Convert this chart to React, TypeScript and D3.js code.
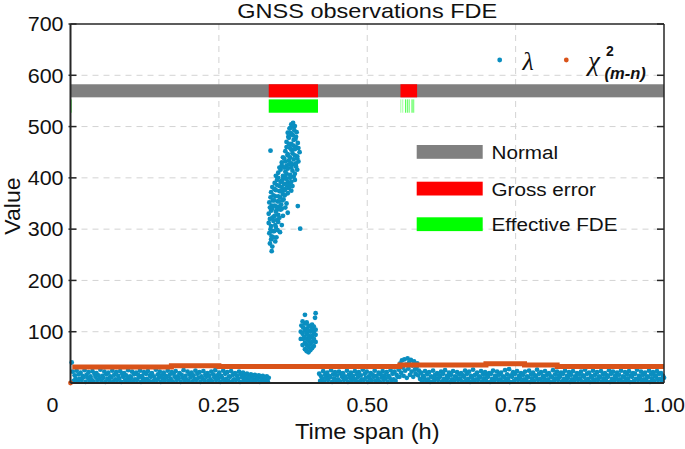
import React from "react";
import * as d3 from "d3";

const W = 685;
const H = 449;
const PL = 70.5, PR = 664, PT = 24, PB = 383;

const xTicks = [0, 0.25, 0.5, 0.75, 1];
const xTickLabels = ["0", "0.25", "0.50", "0.75", "1.00"];
const yTicks = [100, 200, 300, 400, 500, 600, 700];
const yTickLabels = ["100", "200", "300", "400", "500", "600", "700"];
const xGrid = [0.25, 0.5, 0.75];
const yGrid = [100, 200, 300, 400, 500, 600];

// status bands
const normalBand = [557, 582.5];
const fdeBand = [527, 553];
const grossStart = [0.334, 0.556];
const grossEnd = [0.417, 0.584];
const fdeStart = [0.334];
const fdeEnd = [0.417];
const fdeStrips = [0.001, 0.5565, 0.5598, 0.5648, 0.5682, 0.5709, 0.5755, 0.5783];
const fdeStripOpacity = [0.8, 0.35, 0.35, 0.8, 0.7, 0.5, 0.8, 0.6];

// lambda, low band segments (epoch samples spread over the segment time span)
const segATime = [0.002, 0.334];
const lambdaSegA = [
  40, 22, 4, 15, 9, 24, 3, 17, 8, 20, 6, 14, 11, 25, 2, 16, 10, 21, 5, 13,
  7, 23, 3, 18, 12, 19, 6, 15, 9, 26, 4, 14, 10, 22, 2, 17, 8, 20, 5, 13,
  11, 24, 3, 16, 7, 21, 6, 14, 9, 23, 2, 18, 12, 19, 5, 15, 8, 25, 4, 13,
  10, 22, 3, 17, 7, 20, 6, 16, 11, 24, 2, 14, 9, 21, 5, 18, 8, 23, 4, 15,
  12, 19, 3, 13, 7, 26, 6, 17, 10, 22, 2, 15, 9, 20, 5, 14, 11, 24, 4, 16,
  8, 21, 3, 18, 12, 23, 6, 13, 9, 19, 2, 16, 10, 25, 5, 14, 7, 22, 4, 17,
  11, 20, 3, 15, 8, 24, 6, 18, 10, 21, 2, 13, 9, 23, 5, 16, 12, 19, 4, 14,
  7, 22, 3, 17, 11, 25, 6, 15, 9, 20, 2, 14, 10, 24, 5, 18, 8, 21, 4, 13,
  12, 23, 3, 16, 7, 19, 6, 14, 9, 22, 2, 17, 11, 20, 5, 15, 8, 18, 4, 13,
  10, 17, 3, 14, 7, 16, 5, 12, 9, 15, 2, 13, 8, 14, 4, 11, 6, 13, 3, 10,
];
const segBTime = [0.419, 0.551];
const lambdaSegB = [
  18, 4, 13, 8, 23, 3, 16, 10, 20, 6, 14, 11, 25, 2, 17, 9, 21, 5, 15, 7,
  22, 3, 18, 12, 19, 6, 13, 9, 24, 2, 16, 10, 20, 5, 14, 8, 23, 4, 17, 11,
  21, 3, 15, 7, 26, 6, 18, 10, 22, 2, 13, 9, 19, 5, 16, 12, 24, 4, 14, 8,
  20, 3, 17, 11, 23, 6, 15, 9, 21, 2, 14, 10, 25, 5, 18, 7, 22, 4, 16, 12,
];
const bumpTime = [0.553, 0.587];
const lambdaBump = [26, 12, 38, 20, 44, 30, 14, 46, 24, 36, 10, 48, 28, 40, 16, 45, 22, 34, 12, 42, 26, 18, 30, 38, 15, 24];
const segCTime = [0.589, 1.0];
const lambdaSegC = [
  8, 20, 3, 14, 10, 23, 5, 17, 7, 21, 2, 13, 11, 24, 4, 16, 9, 19, 6, 15,
  12, 22, 3, 18, 8, 25, 5, 14, 10, 20, 2, 16, 7, 23, 4, 13, 11, 21, 6, 17,
  9, 19, 3, 15, 12, 24, 5, 18, 8, 22, 2, 14, 10, 26, 4, 16, 7, 20, 6, 13,
  11, 23, 3, 17, 9, 21, 5, 15, 12, 19, 2, 18, 8, 24, 4, 14, 10, 22, 6, 16,
  7, 20, 3, 13, 11, 25, 5, 17, 9, 27, 2, 15, 12, 21, 4, 18, 8, 23, 6, 14,
  10, 19, 3, 16, 7, 22, 5, 13, 11, 24, 2, 17, 9, 20, 4, 15, 12, 26, 6, 18,
  8, 21, 3, 14, 10, 23, 5, 16, 7, 19, 2, 13, 11, 25, 4, 17, 9, 22, 6, 15,
  12, 20, 3, 18, 8, 24, 5, 14, 10, 21, 2, 16, 7, 23, 4, 13, 11, 19, 6, 17,
  9, 22, 3, 15, 12, 26, 5, 18, 8, 20, 2, 14, 10, 24, 4, 16, 7, 21, 6, 13,
  11, 23, 3, 17, 9, 19, 5, 15, 12, 25, 2, 18, 8, 22, 4, 14, 10, 20, 6, 16,
  7, 24, 3, 13, 11, 21, 5, 17, 9, 23, 2, 15, 12, 19, 4, 18, 8, 26, 6, 14,
  10, 22, 3, 16, 7, 20, 5, 13, 11, 24, 2, 17, 9, 21, 4, 15, 12, 23, 6, 18,
  8, 19, 3, 14, 10,
];

// lambda, gross-error clusters [time, value]
const lambdaHigh: [number, number][] = [
  [0.372, 504], [0.375, 507], [0.378, 501], [0.370, 497], [0.374, 500],
  [0.366, 488], [0.369, 496], [0.373, 485], [0.377, 493], [0.381, 489],
  [0.367, 480], [0.371, 487], [0.375, 483], [0.379, 476],
  [0.364, 470], [0.368, 478], [0.372, 466], [0.376, 474], [0.380, 480], [0.383, 468],
  [0.364, 460], [0.368, 466], [0.372, 455], [0.376, 463], [0.380, 460], [0.384, 458],
  [0.362, 452], [0.366, 444], [0.370, 458], [0.374, 448], [0.378, 456], [0.382, 442], [0.386, 450], [0.337, 453],
  [0.358, 440], [0.362, 432], [0.366, 446], [0.370, 440], [0.374, 426], [0.378, 444], [0.382, 438],
  [0.356, 430], [0.360, 438], [0.364, 424], [0.368, 434], [0.372, 428], [0.376, 436], [0.380, 422], [0.384, 432],
  [0.352, 420], [0.356, 424], [0.360, 420], [0.364, 408], [0.368, 426], [0.372, 420], [0.376, 402], [0.380, 428],
  [0.350, 410], [0.354, 416], [0.358, 404], [0.362, 412], [0.366, 418], [0.370, 406], [0.374, 414], [0.378, 408], [0.382, 416],
  [0.346, 404], [0.350, 400], [0.354, 392], [0.358, 398], [0.362, 402], [0.366, 392], [0.370, 400], [0.374, 384],
  [0.344, 390], [0.348, 396], [0.352, 384], [0.356, 394], [0.360, 388], [0.364, 398], [0.368, 386], [0.372, 392], [0.378, 396],
  [0.340, 382], [0.344, 378], [0.348, 386], [0.352, 374], [0.356, 382], [0.360, 376], [0.364, 386], [0.368, 380],
  [0.338, 372], [0.342, 366], [0.346, 376], [0.350, 364], [0.354, 374], [0.358, 368], [0.362, 378], [0.366, 370], [0.372, 375],
  [0.337, 362], [0.341, 356], [0.345, 364], [0.349, 354], [0.353, 362], [0.357, 356], [0.361, 366],
  [0.335, 352], [0.339, 346], [0.343, 356], [0.347, 344], [0.351, 354], [0.355, 348], [0.359, 358], [0.364, 350], [0.383, 345],
  [0.336, 342], [0.340, 340], [0.344, 346], [0.348, 338], [0.352, 344], [0.356, 340], [0.362, 342],
  [0.334, 330], [0.338, 336], [0.342, 324], [0.346, 334], [0.350, 328], [0.354, 338], [0.358, 326], [0.366, 332],
  [0.336, 320], [0.340, 322], [0.344, 326], [0.348, 318], [0.352, 322],
  [0.334, 312], [0.338, 306], [0.342, 316], [0.346, 304], [0.350, 314], [0.356, 308], [0.387, 301],
  [0.337, 300], [0.341, 296], [0.345, 308], [0.349, 298],
  [0.335, 292], [0.339, 286], [0.343, 296], [0.347, 284], [0.353, 294],
  [0.338, 280], [0.342, 284],
  [0.336, 272], [0.340, 266], [0.345, 276], [0.339, 257],
];
const lambdaMid: [number, number][] = [
  [0.388, 86], [0.388, 100], [0.389, 112],
  [0.391, 74], [0.392, 86], [0.391, 96], [0.392, 108], [0.391, 120],
  [0.395, 66], [0.395, 78], [0.394, 90], [0.395, 102], [0.395, 116], [0.395, 133],
  [0.398, 62], [0.398, 74], [0.398, 86], [0.398, 96], [0.398, 106], [0.398, 118],
  [0.401, 60], [0.401, 70], [0.401, 82], [0.401, 92], [0.401, 102], [0.401, 112],
  [0.404, 64], [0.404, 76], [0.404, 88], [0.404, 100], [0.404, 110],
  [0.407, 68], [0.407, 80], [0.407, 92], [0.407, 104], [0.407, 114],
  [0.410, 72], [0.410, 86], [0.410, 98], [0.410, 110],
  [0.413, 80], [0.413, 94], [0.413, 104], [0.412, 127], [0.413, 136],
];

// chi-square threshold (step changes)
const chiTimes = [0.003, 0.17, 0.25, 0.555, 0.70, 0.765, 0.82, 1.0];
const chiValues = [31, 33.5, 32, 35, 37.5, 35, 32, 32];
const chiFirst = [0.0, 0];

const BLUE = "#0a8ec0";
const ORANGE = "#d95319";
const GRID = "#d3d3d3";
const AX = "#262626";
const R = 2.4;

function spread(range: number[], vals: number[]): [number, number][] {
  const n = vals.length;
  return vals.map((v, i) => [range[0] + ((range[1] - range[0]) * i) / (n - 1), v]);
}

export default function App() {
  const x = d3.scaleLinear().domain([0, 1]).range([PL, PR]);
  const y = d3.scaleLinear().domain([0, 700]).range([PB, PT]);

  const lowPts = [
    ...spread(segATime, lambdaSegA),
    ...spread(segBTime, lambdaSegB),
    ...spread(bumpTime, lambdaBump),
    ...spread(segCTime, lambdaSegC),
  ];
  const allBlue = [...lowPts, ...lambdaHigh, ...lambdaMid];

  const chiLine = d3
    .line<number>()
    .x((_, i) => x(chiTimes[i]))
    .y((d) => y(d))
    .curve(d3.curveStepAfter)(chiValues) as string;

  const font = "'Liberation Sans', Arial, Helvetica, sans-serif";
  const serif = "'Liberation Serif', 'DejaVu Serif', serif";
  const sx = 1.1;

  const legendItems = [
    { label: "Normal", color: "#808080", y: 145 },
    { label: "Gross error", color: "#ff0000", y: 181.7 },
    { label: "Effective FDE", color: "#00ff00", y: 217.3 },
  ];

  return (
    <svg width={W} height={H} style={{ position: "fixed", left: 0, top: 0, background: "#fff" }} fontFamily={font}>
      <rect x={0} y={0} width={W} height={H} fill="#fff" />
      {/* grid */}
      {yGrid.map((v) => (
        <line key={"gy" + v} x1={PL} x2={PR} y1={y(v)} y2={y(v)} stroke={GRID} strokeWidth={1} strokeDasharray="6,5" />
      ))}
      {xGrid.map((t) => (
        <line key={"gx" + t} x1={x(t)} x2={x(t)} y1={PT} y2={PB} stroke={GRID} strokeWidth={1} strokeDasharray="6,5" />
      ))}
      {/* status bands */}
      <rect x={x(0)} width={x(1) - x(0)} y={y(normalBand[1])} height={y(normalBand[0]) - y(normalBand[1])} fill="#808080" />
      {grossStart.map((s, i) => (
        <rect key={"g" + i} x={x(s)} width={x(grossEnd[i]) - x(s)} y={y(normalBand[1])} height={y(normalBand[0]) - y(normalBand[1])} fill="#ff0000" />
      ))}
      {fdeStart.map((s, i) => (
        <rect key={"f" + i} x={x(s)} width={x(fdeEnd[i]) - x(s)} y={y(fdeBand[1])} height={y(fdeBand[0]) - y(fdeBand[1])} fill="#00ff00" />
      ))}
      {fdeStrips.map((t, i) => (
        <line key={"fs" + i} x1={x(t)} x2={x(t)} y1={y(fdeBand[1])} y2={y(fdeBand[0])} stroke="#00ff00" strokeWidth={1} opacity={fdeStripOpacity[i]} />
      ))}
      {/* lambda points */}
      {allBlue.map((d, i) => (
        <circle key={"b" + i} cx={x(d[0])} cy={y(d[1])} r={R} fill={BLUE} />
      ))}
      {/* chi-square */}
      <path d={chiLine} fill="none" stroke={ORANGE} strokeWidth={5} />
      <circle cx={x(chiFirst[0])} cy={y(chiFirst[1])} r={R} fill={ORANGE} />
      {/* frame */}
      <line x1={PL} x2={PR} y1={PT} y2={PT} stroke={AX} strokeWidth={1.5} />
      <line x1={PR} x2={PR} y1={PT} y2={PB} stroke={AX} strokeWidth={1.5} />
      <line x1={PL} x2={PR} y1={PB} y2={PB} stroke={AX} strokeWidth={1.8} />
      <line x1={PL} x2={PL} y1={PT} y2={PB} stroke={AX} strokeWidth={2} />
      {yTicks.map((v) => (
        <g key={"yt" + v}>
          <line x1={PL - 2} x2={PL + 6} y1={y(v)} y2={y(v)} stroke={AX} strokeWidth={1.5} />
          <line x1={PR - 7} x2={PR} y1={y(v)} y2={y(v)} stroke={AX} strokeWidth={1.5} />
        </g>
      ))}
      {yTicks.map((v, i) => (
        <text key={"yl" + v} transform={`translate(63.5,${y(v) + 7.3}) scale(${sx},1)`} textAnchor="end" fontSize={19.5} fill="#111">
          {yTickLabels[i]}
        </text>
      ))}
      {xTicks.map((t, i) => (
        <text key={"xl" + t} transform={`translate(${x(t) + (i === 0 ? -18 : 0)},411.5) scale(${sx},1)`} textAnchor="middle" fontSize={19.5} fill="#111">
          {xTickLabels[i]}
        </text>
      ))}
      {/* titles */}
      <text transform={`translate(${(PL + PR) / 2},18) scale(1.12,1)`} textAnchor="middle" fontSize={21} fill="#111">
        GNSS observations FDE
      </text>
      <text transform={`translate(${(PL + PR) / 2},438.5) scale(1.05,1)`} textAnchor="middle" fontSize={22.5} fill="#111">
        Time span (h)
      </text>
      <text transform={`translate(19.5,206) rotate(-90) scale(1.05,1)`} textAnchor="middle" fontSize={22} fill="#111">
        Value
      </text>
      {/* top legend */}
      <circle cx={499.7} cy={60} r={R} fill={BLUE} />
      <text x={522.5} y={69.5} fontSize={26} fontStyle="italic" fontFamily={serif} fill="#111">
        λ
      </text>
      <circle cx={566.3} cy={60} r={R} fill={ORANGE} />
      <text x={588} y={70} fontSize={27} fontStyle="italic" fontFamily={serif} fill="#111">
        χ
      </text>
      <text x={606} y={56} fontSize={14} fontWeight="bold" fill="#111">
        2
      </text>
      <text x={604.5} y={78.5} fontSize={16.5} fontWeight="bold" fontStyle="italic" fill="#111">
        (m-n)
      </text>
      {/* status legend */}
      {legendItems.map((it) => (
        <g key={it.label}>
          <rect x={416.7} y={it.y} width={66} height={13.8} fill={it.color} />
          <text transform={`translate(491.5,${it.y + 14}) scale(${sx},1)`} fontSize={18.8} fill="#111">
            {it.label}
          </text>
        </g>
      ))}
    </svg>
  );
}
